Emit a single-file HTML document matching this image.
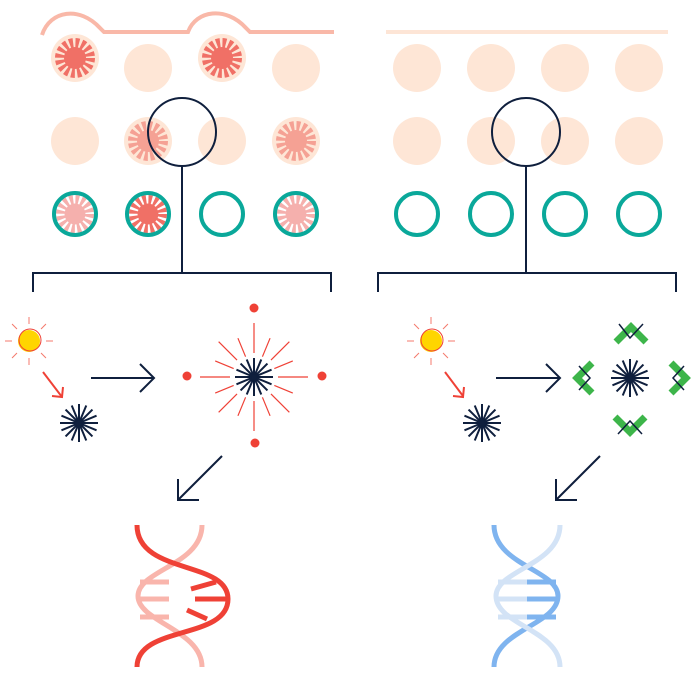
<!DOCTYPE html>
<html><head><meta charset="utf-8"><style>html,body{margin:0;padding:0;background:#fff}svg{display:block}</style></head>
<body>
<svg id="s" width="697" height="678" viewBox="0 0 697 678" xmlns="http://www.w3.org/2000/svg">
<g fill="none" stroke-linecap="butt">
<path d="M42,35 C50,10 80,6 100,28 L104,32 L188,32 C196,10 226,6 246,28 L250,32 L334,32" stroke="#f9b8a8" stroke-width="4"/>
<line x1="386" y1="32" x2="668" y2="32" stroke="#fde5d6" stroke-width="4"/>
</g>
<g fill="#fee6d6">
<circle cx="75" cy="58" r="24"/><circle cx="148" cy="68" r="24"/><circle cx="222" cy="58" r="24"/><circle cx="296" cy="68" r="24"/>
<circle cx="75" cy="141" r="24"/><circle cx="148" cy="141" r="24"/><circle cx="222" cy="141" r="24"/><circle cx="296" cy="141" r="24"/>
<circle cx="417" cy="68" r="24"/><circle cx="491" cy="68" r="24"/><circle cx="565" cy="68" r="24"/><circle cx="639" cy="68" r="24"/>
<circle cx="417" cy="141" r="24"/><circle cx="491" cy="141" r="24"/><circle cx="565" cy="141" r="24"/><circle cx="639" cy="141" r="24"/>
</g>
<g fill="none" id="wedges"></g>
<g fill="none" stroke="#0aa89a" stroke-width="4">
<circle cx="75" cy="214" r="21"/><circle cx="148" cy="214" r="21"/><circle cx="222" cy="214" r="21"/><circle cx="296" cy="214" r="21"/>
<circle cx="417" cy="214" r="21"/><circle cx="491" cy="214" r="21"/><circle cx="565" cy="214" r="21"/><circle cx="639" cy="214" r="21"/>
</g>
<g fill="none" stroke="#0f1f3d" stroke-width="2">
<circle cx="182" cy="132" r="34"/><line x1="182" y1="166" x2="182" y2="273"/>
<path d="M33,292 V273 H331 V292"/>
<circle cx="526" cy="132" r="34"/><line x1="526" y1="166" x2="526" y2="273"/>
<path d="M378,292 V273 H676 V292"/>
<line x1="91" y1="378" x2="154" y2="378"/><path d="M140,364 L154,378 L140,392"/>
<line x1="496" y1="378" x2="560" y2="378"/><path d="M546,364 L560,378 L546,392"/>
<line x1="222" y1="456" x2="178" y2="500"/><path d="M178,479 V500 H199"/>
<line x1="600" y1="456" x2="556" y2="500"/><path d="M556,479 V500 H577"/>
</g>
<g id="gen"></g>
<g fill="#ef4136">
<circle cx="254" cy="308" r="4.5"/><circle cx="255" cy="443" r="4.5"/><circle cx="187" cy="376" r="4.5"/><circle cx="322" cy="376" r="4.5"/>
</g>
<g fill="none" stroke="#ef4136" stroke-width="2">
<line x1="43" y1="372" x2="62" y2="397"/><path d="M52,396 L62,397 L63,387"/>
<line x1="445" y1="372" x2="463" y2="396"/><path d="M453,396 L463,397 L464,387"/>
</g>
<g fill="none" stroke="#3db54a" stroke-width="7">
<path d="M616,342 L631,327 L646,342"/><path d="M615,417 L630,432 L645,417"/>
<path d="M592,363 L577,378 L592,393"/><path d="M671,363 L686,378 L671,393"/>
</g>
<g fill="none" stroke="#0f1f3d" stroke-width="1.5">
<path d="M619,324 L630,338 L643,324"/><path d="M618,434 L630,421 L642,434"/>
<path d="M579,366 L590,378 L579,390"/><path d="M684,366 L673,378 L684,390"/>
</g>
<g fill="none" stroke-width="5">
<path d="M202,525 C202,565 138,570 138,596 C138,622 202,630 202,667" stroke="#f9b5ac"/>
<line x1="140" y1="582" x2="169" y2="582" stroke="#f9b5ac"/>
<line x1="140" y1="599" x2="169" y2="599" stroke="#f9b5ac"/>
<line x1="140" y1="617" x2="169" y2="617" stroke="#f9b5ac"/>
<path d="M137,525 C137,575 228,560 228,599 C228,640 137,625 137,667" stroke="#ef4136"/>
<line x1="191" y1="589" x2="216" y2="582" stroke="#ef4136"/>
<line x1="195" y1="599" x2="228" y2="599" stroke="#ef4136"/>
<line x1="187" y1="610" x2="207" y2="619" stroke="#ef4136"/>
</g>
<g fill="none" stroke-width="5">
<path d="M494,525 C494,565 558,570 558,596 C558,625 494,630 494,667" stroke="#7fb4ef"/>
<line x1="527" y1="582" x2="556" y2="582" stroke="#7fb4ef"/>
<line x1="527" y1="599" x2="558" y2="599" stroke="#7fb4ef"/>
<line x1="527" y1="617" x2="556" y2="617" stroke="#7fb4ef"/>
<path d="M560,525 C560,565 496,570 496,596 C496,625 560,630 560,667" stroke="#d3e3f6"/>
<line x1="498" y1="582" x2="527" y2="582" stroke="#d3e3f6"/>
<line x1="496" y1="599" x2="527" y2="599" stroke="#d3e3f6"/>
<line x1="498" y1="617" x2="527" y2="617" stroke="#d3e3f6"/>
</g>
</svg>
<script>
var NS="http://www.w3.org/2000/svg",g=document.getElementById("gen"),w=document.getElementById("wedges");
function el(p,t,a){var e=document.createElementNS(NS,t);for(var k in a)e.setAttribute(k,a[k]);p.appendChild(e);return e;}
function wedge(cx,cy,R,col,n){var r=R/2,c=2*Math.PI*r,per=c/n;el(w,"circle",{cx:cx,cy:cy,r:r,stroke:col,"stroke-width":R,"stroke-dasharray":(per*0.6)+" "+(per*0.4)});el(w,"circle",{cx:cx,cy:cy,r:R*0.55,fill:col});}
wedge(75,58,20,"#f07066",16);wedge(222,58,20,"#f07066",16);
wedge(148,141,20,"#f5a194",16);wedge(296,141,20,"#f5a194",16);
wedge(75,214,19,"#f5b0ad",16);wedge(148,214,19,"#f07066",16);wedge(296,214,19,"#f5b0ad",16);
function star(cx,cy,R,n,col,sw){for(var i=0;i<n;i++){var a=i*Math.PI*2/n;el(g,"line",{x1:cx,y1:cy,x2:cx+Math.cos(a)*R,y2:cy+Math.sin(a)*R,stroke:col,"stroke-width":sw});}el(g,"circle",{cx:cx,cy:cy,r:3,fill:col});}
star(79,423,19,16,"#0f1f3d",2);star(482,423,19,16,"#0f1f3d",2);
star(630,378,19,16,"#0f1f3d",2);
for(var i=0;i<16;i++){var a=i*Math.PI/8,l=(i%4==0)?[24,54]:(i%2==0)?[24,50]:[22,42];el(g,"line",{x1:254+Math.cos(a)*l[0],y1:377+Math.sin(a)*l[0],x2:254+Math.cos(a)*l[1],y2:377+Math.sin(a)*l[1],stroke:"#ef4136","stroke-width":1.2});}
star(254,377,19,16,"#0f1f3d",2);
function sun(cx,cy){el(g,"circle",{cx:cx,cy:cy,r:11,fill:"#ffd500"});el(g,"circle",{cx:cx+1,cy:cy-1,r:11,fill:"none",stroke:"#ef4136","stroke-width":1});for(var i=0;i<8;i++){var a=i*Math.PI/4;el(g,"line",{x1:cx+Math.cos(a)*17,y1:cy+Math.sin(a)*17,x2:cx+Math.cos(a)*24,y2:cy+Math.sin(a)*24,stroke:"#f47a6c","stroke-width":1});}}
sun(29,341);sun(431,341);
</script>
</body></html>
